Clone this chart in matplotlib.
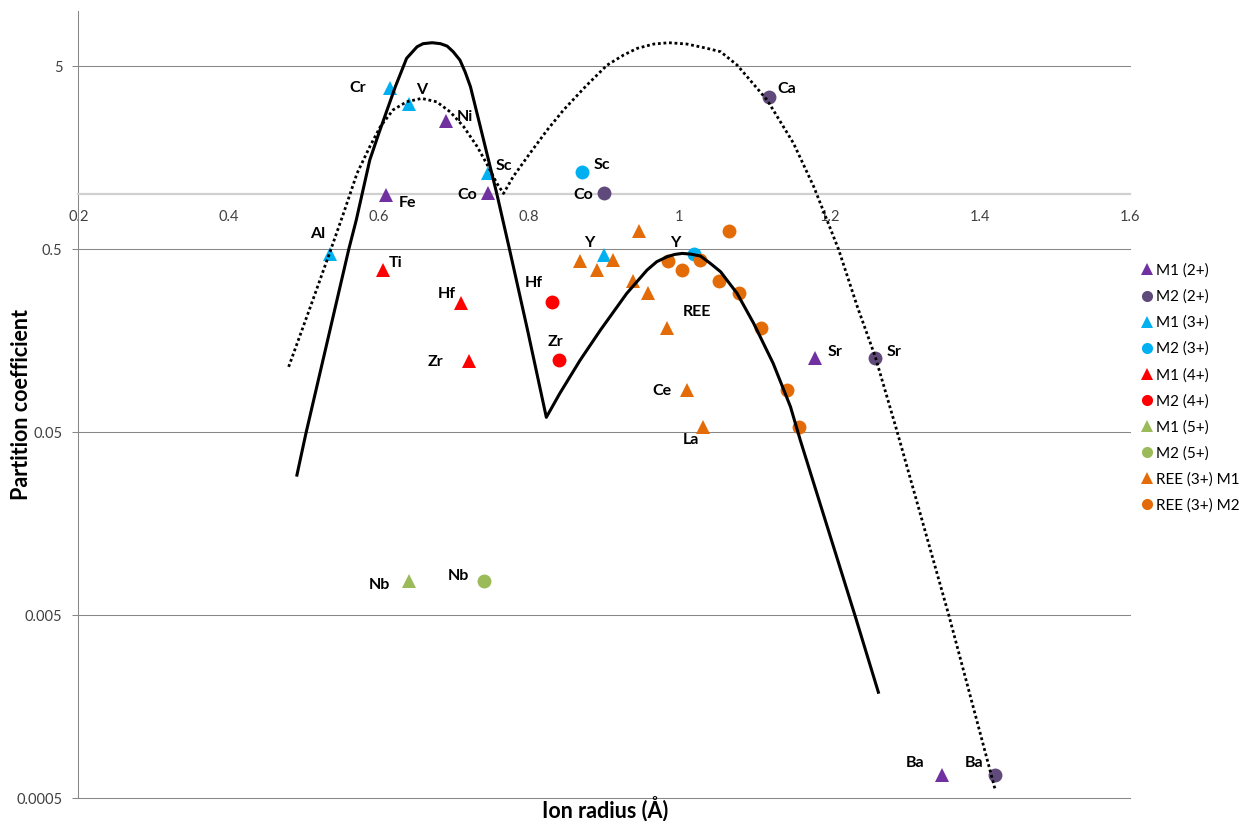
"""
Partition coefficients vs ionic radius, M1 / M2 sites with lattice strain curves
"""

import matplotlib
matplotlib.use('Agg')
import matplotlib.pyplot as plt
from matplotlib.ticker import NullLocator

plt.rcParams['font.family'] = ['Lato', 'DejaVu Sans']

# M1 (2+)
m1_2_r = [0.69, 0.61, 0.745, 1.18, 1.35]
m1_2_d = [2.51, 0.99, 1.01, 0.128, 0.00067]
m1_2_el = ['Ni', 'Fe', 'Co', 'Sr', 'Ba']

# M2 (2+)
m2_2_r = [1.12, 0.90, 1.26, 1.42]
m2_2_d = [3.41, 1.01, 0.128, 0.00067]
m2_2_el = ['Ca', 'Co', 'Sr', 'Ba']

# M1 (3+)
m1_3_r = [0.615, 0.64, 0.745, 0.535, 0.90]
m1_3_d = [3.79, 3.11, 1.31, 0.471, 0.466]
m1_3_el = ['Cr', 'V', 'Sc', 'Al', 'Y']

# M2 (3+)
m2_3_r = [0.87, 1.019]
m2_3_d = [1.32, 0.471]
m2_3_el = ['Sc', 'Y']

# M1 (4+)
m1_4_r = [0.605, 0.71, 0.72]
m1_4_d = [0.385, 0.255, 0.123]
m1_4_el = ['Ti', 'Hf', 'Zr']

# M2 (4+)
m2_4_r = [0.83, 0.84]
m2_4_d = [0.257, 0.124]
m2_4_el = ['Hf', 'Zr']

# M1 (5+) / M2 (5+)
m1_5_r = [0.64]
m1_5_d = [0.0077]
m2_5_r = [0.74]
m2_5_d = [0.0077]
nb_el = ['Nb']

# REE (3+): La, Ce, Nd, Sm, Eu, Gd, Dy, Er, Yb
ree_el = ['La', 'Ce', 'Nd', 'Sm', 'Eu', 'Gd', 'Dy', 'Er', 'Yb']
ree_m1_r = [1.032, 1.01, 0.983, 0.958, 0.947, 0.938, 0.912, 0.89, 0.868]
ree_m2_r = [1.16, 1.143, 1.109, 1.079, 1.066, 1.053, 1.027, 1.004, 0.985]
ree_d = [0.0537, 0.0855, 0.187, 0.29, 0.627, 0.336, 0.439, 0.387, 0.432]

# lattice strain fit, 3+ (solid)
fit3_r = [0.491, 0.503, 0.535, 0.560, 0.570, 0.588, 0.600, 0.622, 0.630, 0.637,
          0.651, 0.659, 0.671, 0.682, 0.691, 0.699, 0.708, 0.715, 0.722, 0.733,
          0.746, 0.757, 0.774, 0.798, 0.823, 0.841, 0.868, 0.895, 0.930, 0.957,
          0.970, 0.984, 0.994, 1.004, 1.015, 1.028, 1.041, 1.055, 1.077, 1.099,
          1.125, 1.148, 1.161, 1.234, 1.265]
fit3_d = [0.0292, 0.0494, 0.181, 0.50, 0.723, 1.54, 2.15, 3.87, 4.68, 5.53,
          6.40, 6.65, 6.73, 6.65, 6.45, 6.01, 5.41, 4.65, 3.87, 2.54,
          1.54, 1.01, 0.50, 0.181, 0.0604, 0.0817, 0.124, 0.181, 0.287, 0.385,
          0.428, 0.456, 0.469, 0.475, 0.471, 0.46, 0.42, 0.377, 0.287, 0.197,
          0.119, 0.069, 0.0454, 0.00497, 0.0019]

# lattice strain fit, 2+ (dotted)
fit2_r = [0.480, 0.509, 0.534, 0.553, 0.571, 0.588, 0.602, 0.619, 0.637, 0.657,
          0.677, 0.695, 0.713, 0.731, 0.746, 0.757, 0.766, 0.779, 0.801, 0.824,
          0.846, 0.877, 0.904, 0.926, 0.944, 0.966, 0.986, 1.010, 1.037, 1.055,
          1.077, 1.117, 1.152, 1.179, 1.212, 1.237, 1.261, 1.290, 1.359, 1.410,
          1.420]
fit2_d = [0.114, 0.243, 0.471, 0.786, 1.30, 1.82, 2.34, 2.89, 3.20, 3.34,
          3.20, 2.82, 2.34, 1.82, 1.41, 1.15, 1.01, 1.25, 1.67, 2.24,
          2.89, 3.95, 5.08, 5.77, 6.27, 6.62, 6.73, 6.62, 6.27, 6.01,
          5.08, 3.27, 1.90, 1.10, 0.50, 0.243, 0.129, 0.0504, 0.00497, 0.00081,
          0.000567]

x_ticks = [0.2, 0.4, 0.6, 0.8, 1.0, 1.2, 1.4, 1.6]
x_tick_labels = ['0.2', '0.4', '0.6', '0.8', '1', '1.2', '1.4', '1.6']
y_ticks = [0.0005, 0.005, 0.05, 0.5, 5]
y_tick_labels = ['0.0005', '0.005', '0.05', '0.5', '5']

PURPLE = '#7030A0'
PURPLE2 = '#604A7B'
CYAN = '#00B0F0'
RED = '#FF0000'
GREEN = '#9BBB59'
ORANGE = '#E36C09'
GRID = '#878787'

fig = plt.figure(figsize=(12.47, 8.21), dpi=100)
ax = fig.add_axes([0.0628, 0.0276, 0.8434, 0.9587])
ax.set_yscale('log')
ax.set_xlim(0.2, 1.6)
ax.set_ylim(0.0005, 10)

# 散点系列
series = [
    ('M1 (2+)', m1_2_r, m1_2_d, '^', PURPLE),
    ('M2 (2+)', m2_2_r, m2_2_d, 'o', PURPLE2),
    ('M1 (3+)', m1_3_r, m1_3_d, '^', CYAN),
    ('M2 (3+)', m2_3_r, m2_3_d, 'o', CYAN),
    ('M1 (4+)', m1_4_r, m1_4_d, '^', RED),
    ('M2 (4+)', m2_4_r, m2_4_d, 'o', RED),
    ('M1 (5+)', m1_5_r, m1_5_d, '^', GREEN),
    ('M2 (5+)', m2_5_r, m2_5_d, 'o', GREEN),
    ('REE (3+) M1', ree_m1_r, ree_d, '^', ORANGE),
    ('REE (3+) M2', ree_m2_r, ree_d, 'o', ORANGE),
]
for name, xs, ys, mk, col in series:
    ax.plot(xs, ys, linestyle='none', marker=mk, markersize=10,
            color=col, markeredgewidth=0, label=name, zorder=3)

# 拟合曲线
ax.plot(fit3_r, fit3_d, color='black', lw=2.2, zorder=4, solid_joinstyle='round')
ax.plot(fit2_r, fit2_d, color='black', lw=2.0, linestyle=(0, (1, 1)),
        dash_capstyle='butt', zorder=4)

# 元素标注 (offset in pixels, up positive)
label_sets = [
    (m1_2_r, m1_2_d, m1_2_el, [(19, 4), (21, -8), (-20, -2), (21, 6), (-27, 12)]),
    (m2_2_r, m2_2_d, m2_2_el, [(17, 8), (-21, -2), (19, 6), (-21, 12)]),
    (m1_3_r, m1_3_d, m1_3_el, [(-32, 0), (13, 14), (16, 7), (-12, 20), (-15, 12)]),
    (m2_3_r, m2_3_d, m2_3_el, [(20, 7), (-18, 11)]),
    (m1_4_r, m1_4_d, m1_4_el, [(13, 7), (-15, 9), (-34, -1)]),
    (m2_4_r, m2_4_d, m2_4_el, [(-18, 19), (-4, 18)]),
    (m1_5_r, m1_5_d, nb_el, [(-29, -4)]),
    (m2_5_r, m2_5_d, nb_el, [(-26, 5)]),
    (ree_m1_r[:2], ree_d[:2], ['La', 'Ce'], [(-12, -13), (-25, -1)]),
]
for xs, ys, names, offs in label_sets:
    for x, y, txt, off in zip(xs, ys, names, offs):
        ax.annotate(txt, (x, y), xytext=off, textcoords='offset pixels',
                    ha='center', va='center', fontsize=11.5, fontweight='bold',
                    zorder=5)
ax.text(1.023, 0.226, 'REE', ha='center', va='center', fontsize=11.5,
        fontweight='bold', zorder=5)

# 坐标轴
ax.spines['top'].set_visible(False)
ax.spines['right'].set_visible(False)
ax.spines['bottom'].set_position(('data', 1))
ax.spines['bottom'].set_color('#D0D0D0')
ax.spines['bottom'].set_linewidth(1.6)
ax.spines['left'].set_color(GRID)
ax.spines['left'].set_linewidth(0.75)

ax.set_xticks(x_ticks)
ax.set_xticklabels(x_tick_labels)
ax.xaxis.set_minor_locator(NullLocator())
ax.tick_params(axis='x', length=0, pad=11, labelsize=10.5, labelcolor='#404040')

ax.set_yticks(y_ticks)
ax.set_yticklabels(y_tick_labels)
ax.yaxis.set_minor_locator(NullLocator())
ax.tick_params(axis='y', length=4.3, width=0.75, color=GRID, pad=7,
               labelsize=10.5, labelcolor='#404040')

ax.set_axisbelow(True)
ax.grid(axis='y', color=GRID, lw=0.75)
for gl in ax.get_ygridlines():
    gl.set_clip_on(False)

fig.text(605 / 1247, 12 / 821, 'Ion radius (Å)', ha='center', va='center',
         fontsize=15.5, fontweight='bold')
fig.text(22 / 1247, 1 - 404 / 821, 'Partition coefficient', rotation=90,
         ha='center', va='center', fontsize=15.5, fontweight='bold')

fig.legend(loc='upper left', bbox_to_anchor=(1140.9 / 1247, 1 - 263.5 / 821),
           frameon=False, fontsize=11, handlelength=0.8, handletextpad=0.16,
           labelspacing=0.77, borderpad=0, borderaxespad=0, markerscale=0.8)

plt.savefig('out.png', dpi=100)
plt.close()
